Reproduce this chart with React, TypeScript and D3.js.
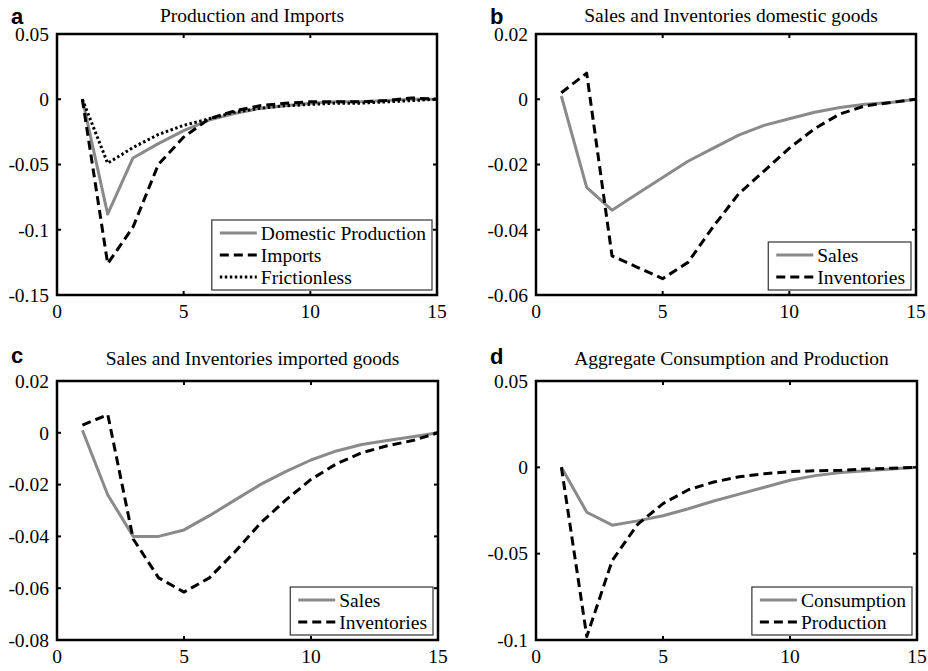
import React, { useRef, useEffect } from "react";
import { select, scaleLinear, line } from "d3";

// x axis: periods 1..15
const periods = [1, 2, 3, 4, 5, 6, 7, 8, 9, 10, 11, 12, 13, 14, 15];
const xTicks = [0, 5, 10, 15];

// panel a
const domesticProduction = [0, -0.088, -0.045, -0.034, -0.024, -0.016, -0.011, -0.007, -0.005, -0.003, -0.002, -0.002, -0.001, 0, 0];
const imports = [0, -0.126, -0.098, -0.05, -0.029, -0.015, -0.009, -0.005, -0.003, -0.002, -0.002, -0.002, -0.001, 0.001, 0];
const frictionless = [0, -0.049, -0.037, -0.027, -0.02, -0.015, -0.01, -0.007, -0.005, -0.004, -0.003, -0.003, -0.002, -0.001, 0];
const aTicks = [-0.15, -0.1, -0.05, 0, 0.05];

// panel b
const salesDomestic = [0.001, -0.027, -0.034, -0.029, -0.024, -0.019, -0.015, -0.011, -0.008, -0.006, -0.004, -0.0025, -0.0015, -0.001, 0];
const inventoriesDomestic = [0.002, 0.008, -0.048, -0.0515, -0.055, -0.05, -0.039, -0.029, -0.022, -0.015, -0.009, -0.0045, -0.002, -0.001, 0];
const bTicks = [-0.06, -0.04, -0.02, 0, 0.02];

// panel c
const salesImported = [0.001, -0.024, -0.04, -0.04, -0.0375, -0.032, -0.026, -0.02, -0.015, -0.0105, -0.007, -0.0045, -0.003, -0.0015, 0];
const inventoriesImported = [0.003, 0.007, -0.041, -0.056, -0.0615, -0.056, -0.046, -0.035, -0.026, -0.018, -0.012, -0.0077, -0.005, -0.003, 0];
const cTicks = [-0.08, -0.06, -0.04, -0.02, 0, 0.02];

// panel d
const consumption = [0, -0.026, -0.0335, -0.031, -0.028, -0.024, -0.0195, -0.0155, -0.0115, -0.0075, -0.0048, -0.003, -0.002, -0.001, 0];
const production = [0, -0.098, -0.054, -0.033, -0.021, -0.013, -0.0085, -0.0055, -0.0037, -0.0025, -0.002, -0.0017, -0.001, -0.0005, 0];
const dTicks = [-0.1, -0.05, 0, 0.05];

const GRAY = "#8a8a8a";
const SERIF = "'Liberation Serif', 'Times New Roman', serif";

const styles = {
  solid: { stroke: GRAY, dash: null, width: 3 },
  dashed: { stroke: "#000", dash: "9,5", width: 3 },
  dotted: { stroke: "#000", dash: "2.5,2.5", width: 3 },
};

const panels = [
  {
    letter: "a", title: "Production and Imports",
    left: 57, right: 437, top: 34, bottom: 295, titleY: 22, letterY: 24,
    yTicks: aTicks,
    series: [
      { name: "Domestic Production", values: domesticProduction, style: "solid" },
      { name: "Imports", values: imports, style: "dashed" },
      { name: "Frictionless", values: frictionless, style: "dotted" },
    ],
  },
  {
    letter: "b", title: "Sales and Inventories domestic goods",
    left: 536, right: 916, top: 34, bottom: 295, titleY: 22, letterY: 24,
    yTicks: bTicks,
    series: [
      { name: "Sales", values: salesDomestic, style: "solid" },
      { name: "Inventories", values: inventoriesDomestic, style: "dashed" },
    ],
  },
  {
    letter: "c", title: "Sales and Inventories imported goods",
    left: 57, right: 438, top: 381, bottom: 640, titleY: 365, letterY: 363,
    yTicks: cTicks,
    series: [
      { name: "Sales", values: salesImported, style: "solid" },
      { name: "Inventories", values: inventoriesImported, style: "dashed" },
    ],
  },
  {
    letter: "d", title: "Aggregate Consumption and Production",
    left: 536, right: 917, top: 381, bottom: 640, titleY: 365, letterY: 364,
    yTicks: dTicks,
    series: [
      { name: "Consumption", values: consumption, style: "solid" },
      { name: "Production", values: production, style: "dashed" },
    ],
  },
];

const fmt = (v: number) => (v === 0 ? "0" : String(+v.toFixed(3)));

function drawPanel(svg: any, p: any) {
  const g = svg.append("g");
  const yMin = p.yTicks[0];
  const yMax = p.yTicks[p.yTicks.length - 1];

  const x = scaleLinear().domain([0, 15]).range([p.left, p.right]);
  const y = scaleLinear().domain([yMin, yMax]).range([p.bottom, p.top]);

  // lines, clipped to the box
  const clipId = "clip-" + p.letter;
  g.append("clipPath").attr("id", clipId)
    .append("rect")
    .attr("x", p.left).attr("y", p.top)
    .attr("width", p.right - p.left).attr("height", p.bottom - p.top);

  const gen = line<number>()
    .x((d, i) => x(periods[i]))
    .y((d) => y(d));

  const lines = g.append("g").attr("clip-path", `url(#${clipId})`);
  p.series.forEach((s: any) => {
    const st = (styles as any)[s.style];
    lines.append("path")
      .attr("d", gen(s.values))
      .attr("fill", "none")
      .attr("stroke", st.stroke)
      .attr("stroke-width", st.width)
      .attr("stroke-dasharray", st.dash)
      .attr("stroke-linejoin", "round");
  });

  // box
  g.append("rect")
    .attr("x", p.left).attr("y", p.top)
    .attr("width", p.right - p.left).attr("height", p.bottom - p.top)
    .attr("fill", "none").attr("stroke", "#000").attr("stroke-width", 2.5);

  // inward ticks on all sides (matlab style)
  const tl = 4;
  xTicks.forEach((t) => {
    g.append("line").attr("x1", x(t)).attr("x2", x(t))
      .attr("y1", p.bottom).attr("y2", p.bottom - tl).attr("stroke", "#000").attr("stroke-width", 2);
    g.append("line").attr("x1", x(t)).attr("x2", x(t))
      .attr("y1", p.top).attr("y2", p.top + tl).attr("stroke", "#000").attr("stroke-width", 2);
    g.append("text")
      .attr("x", x(t)).attr("y", p.bottom + 23)
      .attr("text-anchor", "middle")
      .attr("font-family", SERIF).attr("font-size", 19.5)
      .text(t);
  });
  p.yTicks.forEach((t: number) => {
    g.append("line").attr("x1", p.left).attr("x2", p.left + tl)
      .attr("y1", y(t)).attr("y2", y(t)).attr("stroke", "#000").attr("stroke-width", 2);
    g.append("line").attr("x1", p.right).attr("x2", p.right - tl)
      .attr("y1", y(t)).attr("y2", y(t)).attr("stroke", "#000").attr("stroke-width", 2);
    g.append("text")
      .attr("x", p.left - 8).attr("y", y(t))
      .attr("dy", "0.35em")
      .attr("text-anchor", "end")
      .attr("font-family", SERIF).attr("font-size", 19.5)
      .text(fmt(t));
  });

  // title and panel letter
  g.append("text")
    .attr("x", (p.left + p.right) / 2 + 5).attr("y", p.titleY)
    .attr("text-anchor", "middle")
    .attr("font-family", SERIF).attr("font-size", 19.5)
    .text(p.title);
  g.append("text")
    .attr("x", p.left - 46).attr("y", p.letterY)
    .attr("font-family", "'Liberation Sans', Arial, sans-serif")
    .attr("font-weight", "bold").attr("font-size", 22)
    .text(p.letter);

  // legend
  const rowH = 22;
  const n = p.series.length;
  const legH = 26 + (n - 1) * rowH;
  const leg = g.append("g");
  const box = leg.append("rect");
  const labels = p.series.map((s: any, i: number) =>
    leg.append("text")
      .attr("x", 49).attr("y", 13 + i * rowH)
      .attr("dy", "0.35em")
      .attr("font-family", SERIF).attr("font-size", 19.5)
      .text(s.name)
  );
  const textW = Math.max(...labels.map((t: any) => t.node().getComputedTextLength()));
  const legW = 49 + textW + 6;
  box.attr("x", 0).attr("y", 0).attr("width", legW).attr("height", legH)
    .attr("fill", "#fff").attr("stroke", "#333").attr("stroke-width", 1.2);
  p.series.forEach((s: any, i: number) => {
    const st = (styles as any)[s.style];
    leg.append("line")
      .attr("x1", 8).attr("x2", 45)
      .attr("y1", 13 + i * rowH).attr("y2", 13 + i * rowH)
      .attr("stroke", st.stroke).attr("stroke-width", st.width)
      .attr("stroke-dasharray", st.dash);
  });
  leg.attr("transform", `translate(${p.right - 5 - legW},${p.bottom - 5 - legH})`);
}

export default function App() {
  const svgRef = useRef<SVGSVGElement>(null);

  useEffect(() => {
    const svg = select(svgRef.current);
    svg.selectAll("*").remove();
    panels.forEach((p) => drawPanel(svg, p));
  }, []);

  return (
    <svg
      ref={svgRef}
      width={928}
      height={671}
      style={{ position: "absolute", left: 0, top: 0, background: "#fff" }}
    />
  );
}
